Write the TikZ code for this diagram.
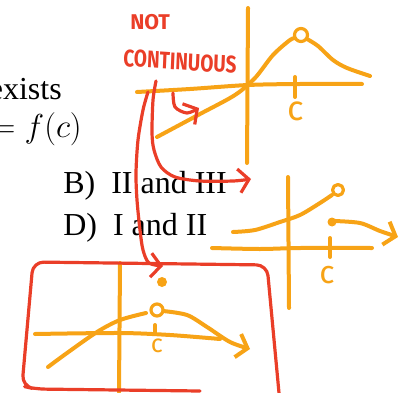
\documentclass[tikz,border=0pt]{standalone}
\usepackage{fontspec}
\setmainfont{Liberation Serif}
\newfontfamily\handfont{Fira Sans}
\usetikzlibrary{arrows.meta}
\definecolor{penorange}{RGB}{247,163,22}
\definecolor{penred}{RGB}{234,62,40}

\begin{document}
\begin{tikzpicture}[x=0.75pt, y=-0.75pt, line cap=round, line join=round,
    every node/.style={inner sep=0pt},
    txt/.style={font=\fontsize{24}{28}\selectfont},
    ink/.style={penorange, line width=3pt},
    pen/.style={penred, line width=2.4pt},
    hole/.style={penorange, line width=2.4pt, fill=white},
    barb/.style={-{Straight Barb[length=7.5pt, width=18pt]}}]
  \useasboundingbox (0,0) rectangle (409,392);

  % printed text of the question
  \node[txt, anchor=base east] (exists) at (62,99) {exists};
  \node[txt, anchor=base east] (fc) at (82,137) {$= f(c)$};
  \node[txt, anchor=base west] (optB) at (63,193) {B)\enspace II and III};
  \node[txt, anchor=base west] (optD) at (63,235) {D)\enspace I and II};

  % sketch I (top)
  \draw[ink] plot[smooth] coordinates {(137,92) (190,89) (248,85) (300,84) (362,84)};
  \draw[ink] (248,8) -- (247,163);
  \draw[ink] plot[smooth] coordinates {(157,137) (200,114) (235,95) (255,78) (273,55) (290,40) (296,38)};
  \draw[ink] plot[smooth] coordinates {(307,39) (318,46) (333,60) (347,68) (370,76)};
  \draw[hole] (301,35) circle (6.5);
  \draw[ink] (295,77) -- (295,97);
  \node[penorange, font=\handfont\fontsize{26}{26}\selectfont] (c1) at (296,111) {c};

  % sketch II (middle)
  \draw[ink] plot[smooth] coordinates {(212,248) (260,249) (300,248) (372,248)};
  \draw[ink] (288,177) -- (289,308);
  \draw[ink] plot[smooth] coordinates {(233,232) (255,230) (280,222) (300,215) (320,203) (332,195)};
  \draw[hole] (338,190) circle (5.5);
  \fill[penorange] (332,222) circle (4.5);
  \draw[ink, barb] plot[smooth] coordinates {(334,221) (360,223) (380,231) (398,237)};
  \draw[ink] (330,238) -- (330,257);
  \node[penorange, font=\handfont\fontsize{24}{24}\selectfont] (c2) at (327,275) {c};

  % sketch III (bottom, boxed)
  \draw[ink] plot[smooth] coordinates {(35,334) (120,333) (170,335) (220,339)};
  \draw[ink] (120,263) -- (119,392);
  \draw[ink] plot[smooth] coordinates {(48,367) (67,353) (97,332) (120,320) (146,313)};
  \draw[ink, barb] plot[smooth] coordinates {(163,311) (187,315) (207,327) (230,342) (250,349)};
  \draw[hole] (157,310) circle (6);
  \fill[penorange] (162,282) circle (5);
  \draw[ink] (155,325) -- (155,333);
  \node[penorange, font=\handfont\fontsize{19}{19}\selectfont] (c3) at (157,346) {c};

  % red notes
  \node[penred, font=\handfont\bfseries\fontsize{16}{16}\selectfont, anchor=base west] (nt) at (130,30) {NOT};
  \node[penred, font=\handfont\bfseries\fontsize{18}{18}\selectfont, anchor=base west, xscale=0.79, rotate=-3] (cont) at (123,66) {CONTINUOUS};
  \draw[pen, barb] plot[smooth] coordinates {(173,93) (175,107) (187,113) (199,108)};
  \draw[pen, barb] plot[smooth] coordinates {(156,81) (153,100) (152,133) (154,150) (161,167) (175,177) (200,181) (233,181) (251,179)};
  \draw[pen, barb] plot[smooth] coordinates {(148,92) (143,110) (138,140) (136,173) (137,200) (140,230) (143,250) (149,263) (163,266)};
  \draw[pen, rounded corners=8pt] (279,393) -- (267,265) -- (33,262) -- (22,386) -- (35,389) -- (200,391);
\end{tikzpicture}
\end{document}
